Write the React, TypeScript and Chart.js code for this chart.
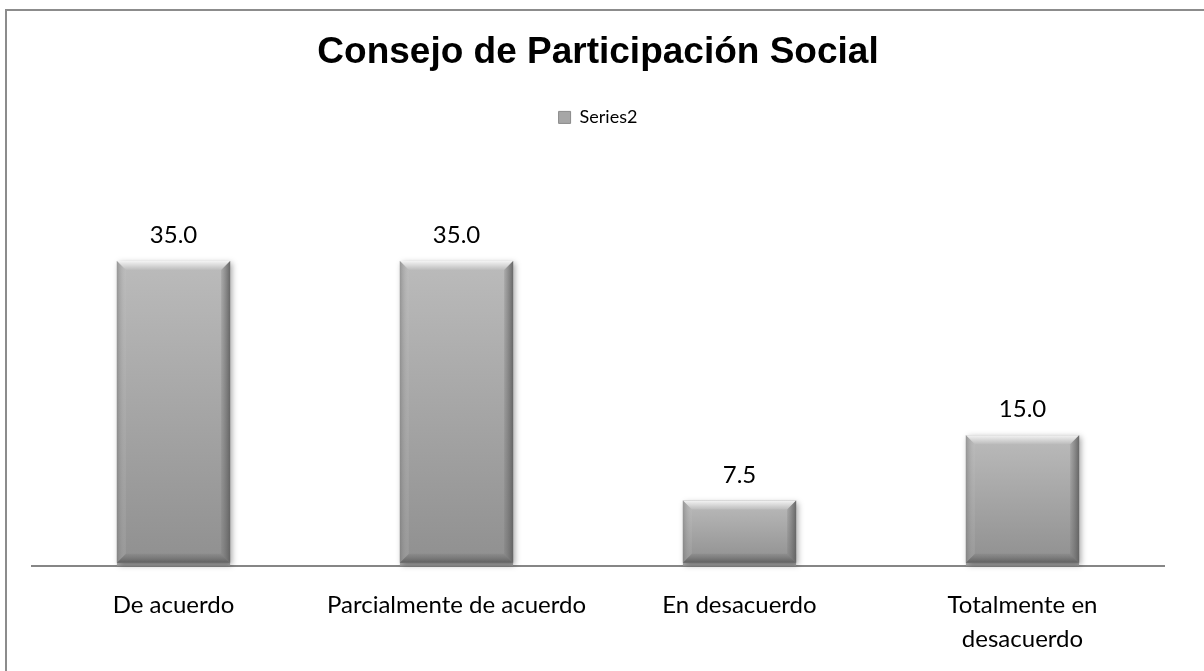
import React, { useEffect, useRef } from "react";
import { Chart, registerables } from "chart.js";

Chart.register(...registerables);

const titleText = "Consejo de Participación Social";
const seriesName = "Series2";
const categories: string[][] = [
  ["De acuerdo"],
  ["Parcialmente de acuerdo"],
  ["En desacuerdo"],
  ["Totalmente en", "desacuerdo"],
];
const values: number[] = [35.0, 35.0, 7.5, 15.0];
const yMin = 0;
const yMax = 49.3;

const framePlugin = {
  id: "frame",
  beforeDraw(chart: any) {
    const ctx = chart.ctx;
    ctx.save();
    ctx.fillStyle = "#ffffff";
    ctx.fillRect(0, 0, chart.width, chart.height);
    ctx.strokeStyle = "#8c8c8c";
    ctx.lineWidth = 2;
    ctx.beginPath();
    ctx.moveTo(6, chart.height);
    ctx.lineTo(6, 10);
    ctx.lineTo(chart.width, 10);
    ctx.stroke();
    ctx.restore();
  },
};

const bevelPlugin = {
  id: "bevel",
  afterDatasetsDraw(chart: any) {
    const ctx = chart.ctx;
    const meta = chart.getDatasetMeta(0);
    meta.data.forEach((el: any, i: number) => {
      const { x, y, base, width } = el.getProps(["x", "y", "base", "width"], true);
      const l = x - width / 2;
      const r = x + width / 2;
      const t = Math.min(y, base);
      const b = Math.max(y, base) - 3;
      const h = b - t;
      const bv = Math.min(9, h / 3);
      ctx.save();
      ctx.shadowColor = "rgba(0,0,0,0.35)";
      ctx.shadowBlur = 6;
      ctx.shadowOffsetX = 2;
      ctx.shadowOffsetY = 2;
      const g = ctx.createLinearGradient(0, t, 0, b);
      g.addColorStop(0, "#bbbbbb");
      g.addColorStop(1, "#909090");
      ctx.fillStyle = g;
      ctx.fillRect(l, t, width, h);
      ctx.shadowColor = "rgba(0,0,0,0)";
      ctx.shadowBlur = 0;
      ctx.shadowOffsetX = 0;
      ctx.shadowOffsetY = 0;
      // top bevel
      const gt = ctx.createLinearGradient(0, t, 0, t + bv);
      gt.addColorStop(0, "#f4f4f4");
      gt.addColorStop(1, "#bcbcbc");
      ctx.fillStyle = gt;
      ctx.beginPath();
      ctx.moveTo(l, t);
      ctx.lineTo(r, t);
      ctx.lineTo(r - bv, t + bv);
      ctx.lineTo(l + bv, t + bv);
      ctx.closePath();
      ctx.fill();
      // left bevel
      const gl = ctx.createLinearGradient(l, 0, l + bv, 0);
      gl.addColorStop(0, "rgba(120,120,120,0.55)");
      gl.addColorStop(1, "rgba(200,200,200,0.15)");
      ctx.fillStyle = gl;
      ctx.beginPath();
      ctx.moveTo(l, t);
      ctx.lineTo(l + bv, t + bv);
      ctx.lineTo(l + bv, b - bv);
      ctx.lineTo(l, b);
      ctx.closePath();
      ctx.fill();
      // right bevel
      const gr = ctx.createLinearGradient(r - bv, 0, r, 0);
      gr.addColorStop(0, "rgba(110,110,110,0.2)");
      gr.addColorStop(1, "rgba(95,95,95,0.9)");
      ctx.fillStyle = gr;
      ctx.beginPath();
      ctx.moveTo(r, t);
      ctx.lineTo(r, b);
      ctx.lineTo(r - bv, b - bv);
      ctx.lineTo(r - bv, t + bv);
      ctx.closePath();
      ctx.fill();
      // bottom bevel
      const gb = ctx.createLinearGradient(0, b - bv, 0, b);
      gb.addColorStop(0, "rgba(110,110,110,0.2)");
      gb.addColorStop(1, "rgba(90,90,90,0.9)");
      ctx.fillStyle = gb;
      ctx.beginPath();
      ctx.moveTo(l, b);
      ctx.lineTo(l + bv, b - bv);
      ctx.lineTo(r - bv, b - bv);
      ctx.lineTo(r, b);
      ctx.closePath();
      ctx.fill();
      // value label
      ctx.fillStyle = "#000000";
      ctx.font = "24px Lato";
      ctx.textAlign = "center";
      ctx.textBaseline = "alphabetic";
      ctx.fillText(values[i].toFixed(1), x, t - 18);
      ctx.restore();
    });
  },
};

export default function App() {
  const canvasRef = useRef<HTMLCanvasElement | null>(null);

  useEffect(() => {
    const canvas = canvasRef.current;
    if (!canvas) return;
    const chart = new Chart(canvas, {
      type: "bar",
      data: {
        labels: categories,
        datasets: [
          {
            label: seriesName,
            data: values,
            backgroundColor: "#a6a6a6",
            borderWidth: 0,
            categoryPercentage: 1,
            barPercentage: 0.4,
          },
        ],
      },
      options: {
        responsive: false,
        animation: false,
        devicePixelRatio: 1,
        layout: { padding: { left: 32, right: 40, top: 0, bottom: -7 } },
        plugins: {
          title: {
            display: true,
            text: titleText,
            color: "#000000",
            font: { family: "'Liberation Sans', Arial, sans-serif", size: 37, weight: "bold" },
            padding: { top: 31, bottom: 23 },
          },
          legend: {
            display: true,
            position: "top",
            labels: {
              color: "#000000",
              font: { family: "Lato", size: 18 },
              boxWidth: 12,
              boxHeight: 12,
              generateLabels: () => [
                {
                  text: seriesName,
                  fillStyle: "#a6a6a6",
                  strokeStyle: "#8a8a8a",
                  lineWidth: 1,
                  hidden: false,
                  datasetIndex: 0,
                },
              ],
            },
          },
          tooltip: { enabled: false },
        },
        scales: {
          x: {
            grid: { display: false, drawTicks: false },
            border: { display: true, color: "#868686", width: 2 },
            ticks: {
              color: "#000000",
              font: { family: "Lato", size: 24, lineHeight: 1.42 },
              padding: 22,
              maxRotation: 0,
              autoSkip: false,
            },
          },
          y: { display: false, min: yMin, max: yMax },
        },
      },
      plugins: [framePlugin, bevelPlugin],
    });
    return () => chart.destroy();
  }, []);

  return (
    <div style={{ position: "absolute", left: 0, top: 0, width: 1204, height: 671 }}>
      <canvas ref={canvasRef} width={1204} height={671} />
    </div>
  );
}
